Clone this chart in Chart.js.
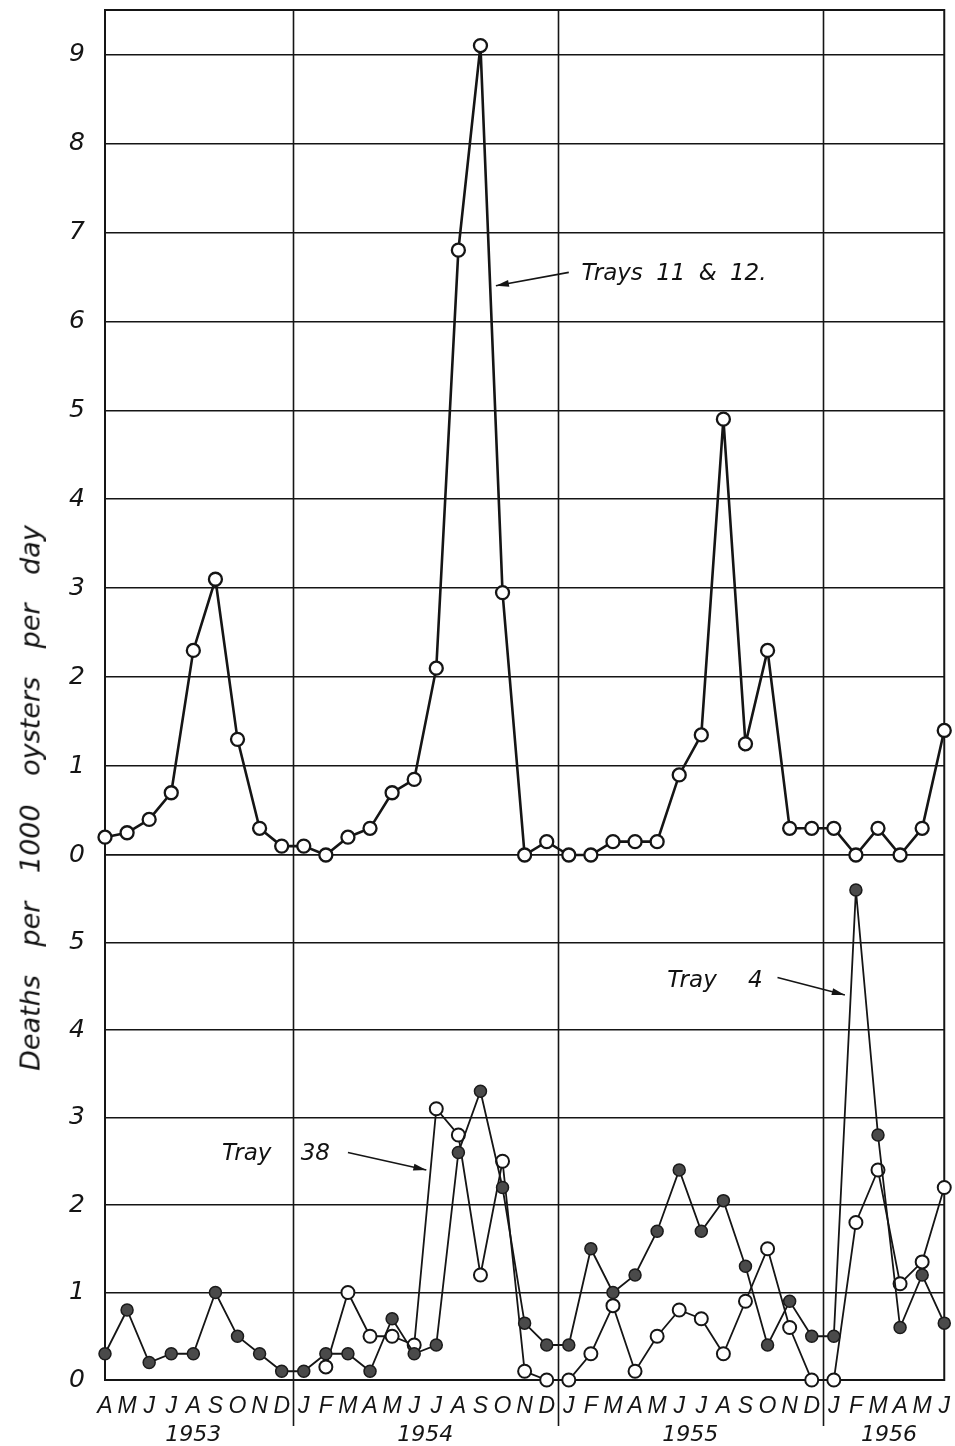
<!DOCTYPE html>
<html><head><meta charset="utf-8">
<script src="https://cdn.jsdelivr.net/npm/chart.js@4.4.1/dist/chart.umd.min.js"></script>
<style>
html,body{margin:0;padding:0;background:#fff;}
#wrap{position:relative;width:955px;height:1446px;overflow:hidden;background:#fff;}
canvas{position:absolute;left:0;top:0;}
.t{position:absolute;font-family:"DejaVu Sans",sans-serif;font-style:italic;color:#111;white-space:nowrap;transform:translate(-50%,-50%);}
</style></head><body>
<div id="wrap">
<canvas id="c" width="955" height="1446"></canvas>
<div class="t" style="left:674px;top:272px;font-size:23px;word-spacing:6px">Trays 11 &amp; 12.</div>
<div class="t" style="left:276px;top:1152px;font-size:23px;word-spacing:22px">Tray 38</div>
<div class="t" style="left:715px;top:979px;font-size:23px;word-spacing:24px">Tray 4</div>
<div class="t" style="left:30px;top:798px;font-size:27px;word-spacing:20px;transform:translate(-50%,-50%) rotate(-90deg)">Deaths per 1000 oysters per day</div>
</div>
<script>
const months = ['A','M','J','J','A','S','O','N','D',
  'J','F','M','A','M','J','J','A','S','O','N','D',
  'J','F','M','A','M','J','J','A','S','O','N','D',
  'J','F','M','A','M','J'];
const yearLabels = ['1953','1954','1955','1956'];
const yearCenters = [4, 14.5, 26.5, 35.5];
const yearBreaks = [8.5, 20.5, 32.5];
const topTicks = [0,1,2,3,4,5,6,7,8,9];
const bottomTicks = [0,1,2,3,4,5,6];

const trays11and12 = [0.2,0.25,0.4,0.7,2.3,3.1,1.3,0.3,0.1,
  0.1,0,0.2,0.3,0.7,0.85,2.1,6.8,9.1,2.95,0,0.15,
  0,0,0.15,0.15,0.15,0.9,1.35,4.9,1.25,2.3,0.3,0.3,
  0.3,0,0.3,0,0.3,1.4];
const tray4 = [0.3,0.8,0.2,0.3,0.3,1.0,0.5,0.3,0.1,
  0.1,0.3,0.3,0.1,0.7,0.3,0.4,2.6,3.3,2.2,0.65,0.4,
  0.4,1.5,1.0,1.2,1.7,2.4,1.7,2.05,1.3,0.4,0.9,0.5,
  0.5,5.6,2.8,0.6,1.2,0.65];
const tray38 = [null,null,null,null,null,null,null,null,null,
  null,0.15,1.0,0.5,0.5,0.4,3.1,2.8,1.2,2.5,0.1,0,
  0,0.3,0.85,0.1,0.5,0.8,0.7,0.3,0.9,1.5,0.6,0,
  0,1.8,2.4,1.1,1.35,2.2];

// annotation arrows in data units: [x from, y from, x to, y to, axis]
const arrows = [
  [21.0, 6.55, 17.7, 6.40, 'yTop'],
  [11.0, 2.60, 14.55, 2.40, 'yBot'],
  [30.45, 4.60, 33.5, 4.40, 'yBot']
];

const INK = '#151515';
const tickFont = {family: '"DejaVu Sans", sans-serif', style: 'italic', size: 25};
const xFont = {family: '"Liberation Sans", sans-serif', style: 'italic', size: 23};
const yearFont = {family: '"DejaVu Sans", sans-serif', style: 'italic', size: 22};

const decor = {
  id: 'decor',
  beforeDatasetsDraw(chart) {
    const {ctx, chartArea: a, scales: {x}} = chart;
    ctx.save();
    ctx.strokeStyle = INK;
    ctx.lineWidth = 1.6;
    yearBreaks.forEach(b => {
      const px = Math.round(x.getPixelForValue(b)) + 0.5;
      ctx.beginPath();
      ctx.moveTo(px, a.top);
      ctx.lineTo(px, a.bottom + 46);
      ctx.stroke();
    });
    ctx.lineWidth = 2;
    ctx.strokeRect(a.left, a.top, a.right - a.left, a.bottom - a.top);
    ctx.restore();
  },
  afterDatasetsDraw(chart) {
    const {ctx, scales} = chart;
    ctx.save();
    ctx.strokeStyle = INK;
    ctx.fillStyle = INK;
    ctx.lineWidth = 1.6;
    arrows.forEach(([x0, y0, x1, y1, ax]) => {
      const X0 = scales.x.getPixelForValue(x0), Y0 = scales[ax].getPixelForValue(y0);
      const X1 = scales.x.getPixelForValue(x1), Y1 = scales[ax].getPixelForValue(y1);
      const ang = Math.atan2(Y1 - Y0, X1 - X0);
      ctx.beginPath();
      ctx.moveTo(X0, Y0);
      ctx.lineTo(X1, Y1);
      ctx.stroke();
      const L = 13, W = 3.5;
      ctx.beginPath();
      ctx.moveTo(X1, Y1);
      ctx.lineTo(X1 - L * Math.cos(ang) + W * Math.sin(ang), Y1 - L * Math.sin(ang) - W * Math.cos(ang));
      ctx.lineTo(X1 - L * Math.cos(ang) - W * Math.sin(ang), Y1 - L * Math.sin(ang) + W * Math.cos(ang));
      ctx.closePath();
      ctx.fill();
    });
    ctx.restore();
  }
};

function fitY(s) { s.width = 45; s.paddingTop = 0; s.paddingBottom = 0; }

new Chart(document.getElementById('c'), {
  type: 'line',
  data: {
    labels: months,
    datasets: [
      {label: 'Tray 4', data: tray4, yAxisID: 'yBot', borderColor: INK, borderWidth: 1.8,
       pointRadius: 6, pointBackgroundColor: '#4a4a4a', pointBorderColor: '#1a1a1a', pointBorderWidth: 1.5,
       clip: false, tension: 0, spanGaps: false},
      {label: 'Tray 38', data: tray38, yAxisID: 'yBot', borderColor: INK, borderWidth: 1.8,
       pointRadius: 6.5, pointBackgroundColor: '#fff', pointBorderColor: INK, pointBorderWidth: 2,
       clip: false, tension: 0, spanGaps: false},
      {label: 'Trays 11 & 12', data: trays11and12, yAxisID: 'yTop', borderColor: INK, borderWidth: 2.6,
       pointRadius: 6.5, pointBackgroundColor: '#fff', pointBorderColor: INK, pointBorderWidth: 2.3,
       clip: false, tension: 0}
    ]
  },
  options: {
    responsive: false, animation: false, devicePixelRatio: 1,
    layout: {padding: {left: 60, right: 10, top: 10, bottom: 0}},
    plugins: {legend: {display: false}, tooltip: {enabled: false}},
    scales: {
      x: {type: 'category', offset: false, position: 'bottom',
          grid: {display: false}, border: {display: false},
          ticks: {autoSkip: false, maxRotation: 0, padding: 5, color: INK, font: xFont},
          afterFit(s) { s.height = 34; }},
      xYear: {type: 'linear', position: 'bottom', min: 0, max: 38,
          grid: {display: false}, border: {display: false},
          afterBuildTicks(s) { s.ticks = yearCenters.map(v => ({value: v})); },
          ticks: {autoSkip: false, maxRotation: 0, padding: 0, color: INK, font: yearFont,
                  callback: (v, i) => yearLabels[i]},
          afterFit(s) { s.height = 32; }},
      yBot: {type: 'linear', position: 'left', stack: 'panels', stackWeight: 525, weight: 1,
          min: 0, max: 6,
          afterBuildTicks(s) { s.ticks = bottomTicks.map(v => ({value: v})); },
          grid: {color: INK, lineWidth: 1.5, drawTicks: false}, border: {display: false},
          ticks: {autoSkip: false, padding: 20, color: INK, font: tickFont,
                  callback: v => (v === 6 ? '' : v)},
          afterFit: fitY},
      yTop: {type: 'linear', position: 'left', stack: 'panels', stackWeight: 845, weight: 2,
          min: 0, max: 9.5,
          afterBuildTicks(s) { s.ticks = topTicks.map(v => ({value: v})); },
          grid: {color: INK, lineWidth: 1.5, drawTicks: false}, border: {display: false},
          ticks: {autoSkip: false, padding: 20, color: INK, font: tickFont},
          afterFit: fitY}
    }
  },
  plugins: [decor]
});
</script>
</body></html>
